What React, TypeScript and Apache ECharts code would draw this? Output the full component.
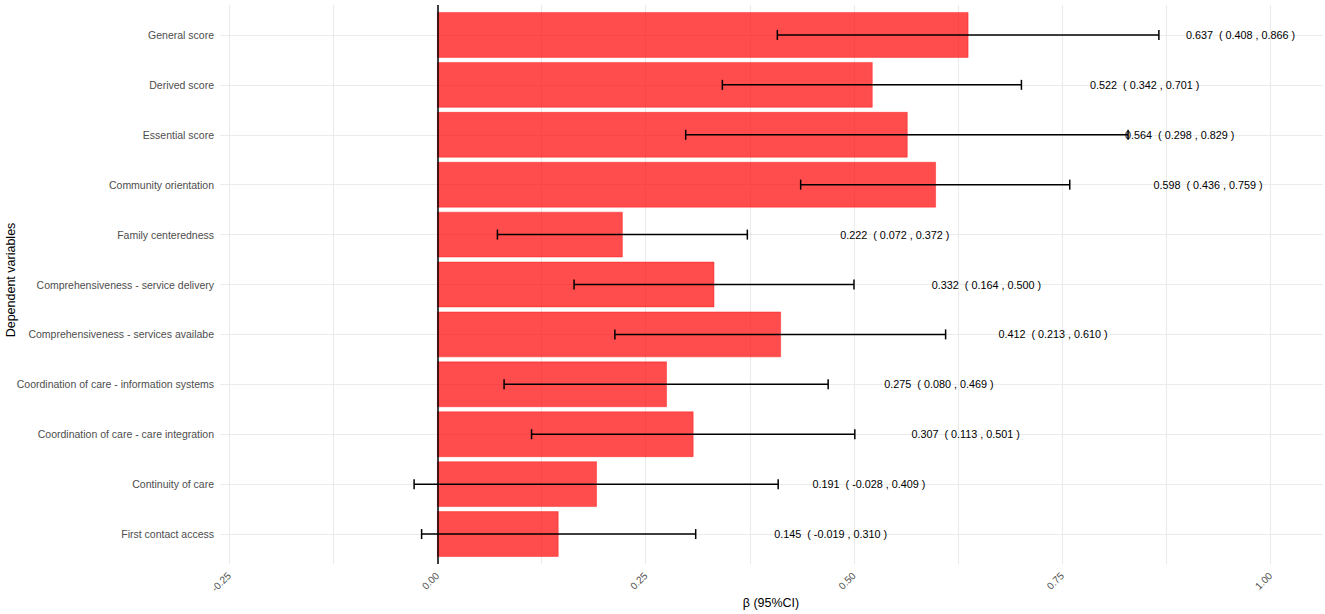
import React, { useEffect, useRef } from "react";
import * as echarts from "echarts";

const categories = [
  "General score",
  "Derived score",
  "Essential score",
  "Community orientation",
  "Family centeredness",
  "Comprehensiveness - service delivery",
  "Comprehensiveness - services availabe",
  "Coordination of care - information systems",
  "Coordination of care - care integration",
  "Continuity of care",
  "First contact access",
];
const estimates = [0.637, 0.522, 0.564, 0.598, 0.222, 0.332, 0.412, 0.275, 0.307, 0.191, 0.145];
const lowers = [0.408, 0.342, 0.298, 0.436, 0.072, 0.164, 0.213, 0.08, 0.113, -0.028, -0.019];
const uppers = [0.866, 0.701, 0.829, 0.759, 0.372, 0.5, 0.61, 0.469, 0.501, 0.409, 0.31];
const xGridValues = [-0.25, -0.125, 0, 0.125, 0.25, 0.375, 0.5, 0.625, 0.75, 0.875, 1.0];
const xTickLabels = [-0.25, 0, 0.25, 0.5, 0.75, 1.0];

const LABEL_OFFSET = 0.327;
const FONT = "'Liberation Sans', Arial, Helvetica, sans-serif";

export default function App() {
  const ref = useRef<HTMLDivElement>(null);
  useEffect(() => {
    if (!ref.current) return;
    const chart = echarts.init(ref.current, null, { renderer: "svg" });
    const data = estimates.map((e, i) => [e, lowers[i], uppers[i], i]);
    const fmt = (v: number) => v.toFixed(3);
    chart.setOption({
      animation: false,
      textStyle: { fontFamily: FONT },
      grid: { left: 220, right: 2, top: 5, bottom: 50, containLabel: false },
      xAxis: {
        type: "value",
        min: -0.261,
        max: 1.063,
        axisLine: { show: false },
        axisTick: { show: false, customValues: xGridValues },
        axisLabel: {
          customValues: xTickLabels,
          rotate: 45,
          margin: 10,
          fontSize: 10,
          color: "#4D4D4D",
          fontFamily: FONT,
          formatter: (v: number) => v.toFixed(2),
        },
        splitLine: { show: true, lineStyle: { color: "#EBEBEB", width: 1.1 } },
      },
      yAxis: {
        type: "value",
        inverse: true,
        min: -0.6,
        max: 10.6,
        axisLine: { show: false },
        axisTick: { show: false, customValues: categories.map((_, i) => i) },
        axisLabel: {
          customValues: categories.map((_, i) => i),
          margin: 6,
          fontSize: 10.5,
          color: "#4D4D4D",
          fontFamily: FONT,
          formatter: (v: number) => categories[Math.round(v)] ?? "",
        },
        splitLine: { show: true, lineStyle: { color: "#EBEBEB", width: 1.1 } },
      },
      graphic: [
        {
          type: "text",
          x: 771,
          y: 603,
          style: {
            text: "β (95%CI)",
            fontSize: 12.5,
            fill: "#000",
            fontFamily: FONT,
            align: "center",
            verticalAlign: "middle",
          },
        },
        {
          type: "text",
          x: 11,
          y: 280,
          rotation: Math.PI / 2,
          style: {
            text: "Dependent variables",
            fontSize: 12.5,
            fill: "#000",
            fontFamily: FONT,
            align: "center",
            verticalAlign: "middle",
          },
        },
      ],
      series: [
        {
          type: "custom",
          data,
          encode: { x: [0, 1, 2], y: 3 },
          renderItem: (params: any, api: any) => {
            const est = api.value(0);
            const lo = api.value(1);
            const hi = api.value(2);
            const idx = api.value(3);
            const p0 = api.coord([0, idx]);
            const pe = api.coord([est, idx]);
            const pl = api.coord([lo, idx]);
            const ph = api.coord([hi, idx]);
            const pt = api.coord([est + LABEL_OFFSET, idx]);
            const h = api.size([0, 0.9])[1];
            const cap = 5;
            const y = p0[1];
            return {
              type: "group",
              children: [
                {
                  type: "rect",
                  shape: { x: Math.min(p0[0], pe[0]), y: y - h / 2, width: Math.abs(pe[0] - p0[0]), height: h },
                  style: { fill: "rgba(255,0,0,0.7)", stroke: "rgba(255,0,0,0.75)", lineWidth: 0.5 },
                },
                {
                  type: "line",
                  shape: { x1: pl[0], y1: y, x2: ph[0], y2: y },
                  style: { stroke: "#000", lineWidth: 1.5 },
                },
                {
                  type: "line",
                  shape: { x1: pl[0], y1: y - cap, x2: pl[0], y2: y + cap },
                  style: { stroke: "#000", lineWidth: 1.5 },
                },
                {
                  type: "line",
                  shape: { x1: ph[0], y1: y - cap, x2: ph[0], y2: y + cap },
                  style: { stroke: "#000", lineWidth: 1.5 },
                },
                {
                  type: "text",
                  x: pt[0],
                  y: y,
                  style: {
                    text: `${fmt(est)}  ( ${fmt(lo)} , ${fmt(hi)} )`,
                    fontSize: 10.8,
                    fill: "#000",
                    fontFamily: FONT,
                    align: "center",
                    verticalAlign: "middle",
                  },
                },
              ],
            };
          },
          markLine: {
            silent: true,
            symbol: "none",
            label: { show: false },
            lineStyle: { color: "#000", width: 1.5, type: "solid" },
            data: [{ xAxis: 0 }],
            z: 10,
          },
          z: 2,
        },
      ],
    });
    return () => chart.dispose();
  }, []);
  return <div ref={ref} style={{ width: 1325, height: 614, position: "absolute", left: 0, top: 0 }} />;
}
